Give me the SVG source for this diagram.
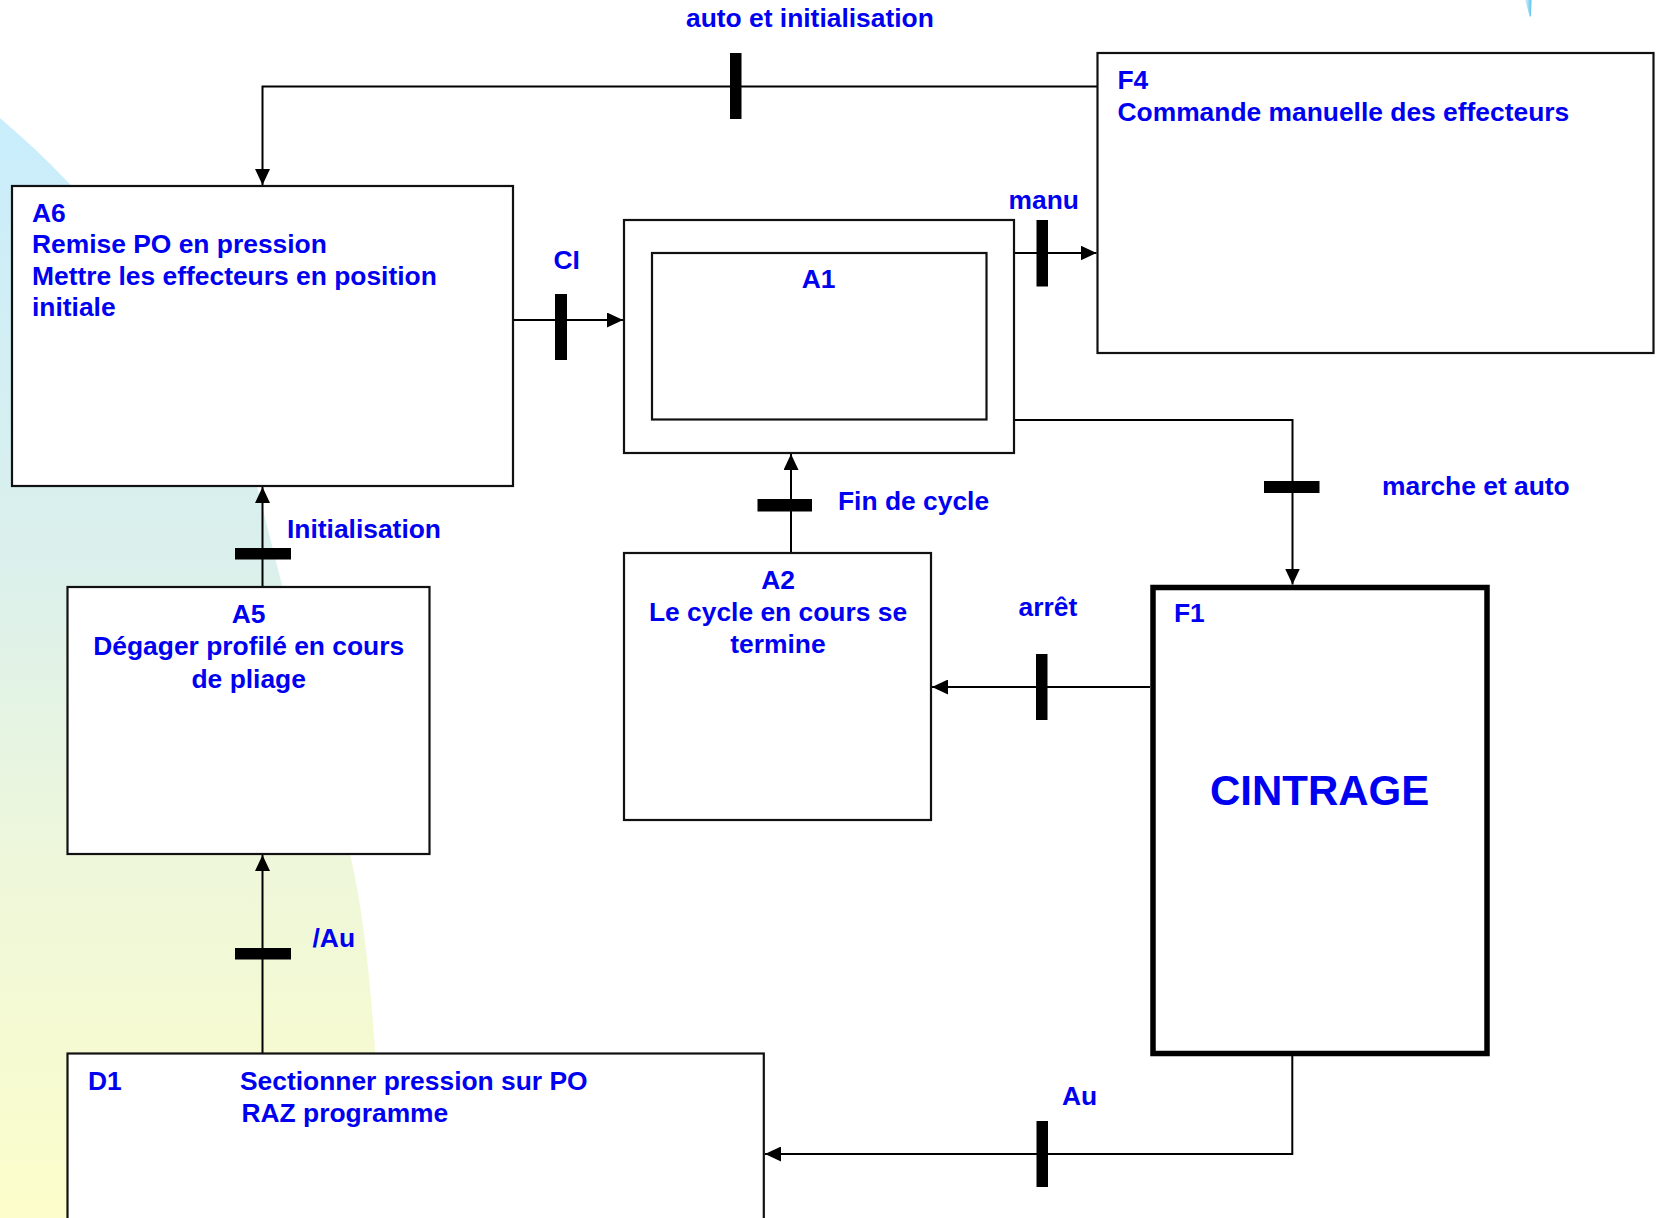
<svg xmlns="http://www.w3.org/2000/svg" width="1658" height="1218" viewBox="0 0 1658 1218">
<style>
.box{fill:#fff;stroke:#111;stroke-width:2.2}
.thick{fill:#fff;stroke:#000;stroke-width:5.5}
.line{fill:none;stroke:#000;stroke-width:2}
.bar{fill:#000}
text{font-family:"Liberation Sans",Arial,Helvetica,sans-serif;font-weight:bold;font-size:26.4px;fill:#0000f0}
.c{text-anchor:middle}
.big{font-size:42px}
</style>
<defs>
<linearGradient id="bg" gradientUnits="userSpaceOnUse" x1="0" y1="118" x2="0" y2="1218">
<stop offset="0" stop-color="#c9edfc"/>
<stop offset="0.4" stop-color="#dbf0ec"/>
<stop offset="0.68" stop-color="#eef7da"/>
<stop offset="1" stop-color="#fcfdca"/>
</linearGradient>
<linearGradient id="sl" x1="0" y1="0" x2="1" y2="0">
<stop offset="0" stop-color="#e3f5fc"/>
<stop offset="0.6" stop-color="#8fd6f2"/>
<stop offset="1" stop-color="#5cc4ec"/>
</linearGradient>
<marker id="ah" markerUnits="userSpaceOnUse" markerWidth="16" markerHeight="15" refX="16" refY="7.5" orient="auto">
<path d="M0,0 L16,7.5 L0,15 Z" fill="#000"/>
</marker>
</defs>

<g id="background">
<path d="M0,118 C120,220 220,360 257,486 L350,854 C368,930 378,1050 382,1218 L0,1218 Z" fill="url(#bg)"/>
<polygon points="1525,0 1531.5,0 1531,16.5 1529.8,16.5" fill="url(#sl)"/>
</g>

<g id="connectors">
<path class="line" d="M1097.5,86.5 H262.5 V185" marker-end="url(#ah)"/>
<rect class="bar" x="730" y="53" width="11.5" height="66"/>
<text x="686" y="27">auto et initialisation</text>

<path class="line" d="M513,320 H623" marker-end="url(#ah)"/>
<rect class="bar" x="555" y="294" width="12" height="66"/>
<text x="553.5" y="269">CI</text>

<path class="line" d="M1014,253 H1096.5" marker-end="url(#ah)"/>
<rect class="bar" x="1036.5" y="220" width="11.5" height="66.5"/>
<text x="1008.5" y="209">manu</text>

<path class="line" d="M1014,420 H1292.5 V584.5" marker-end="url(#ah)"/>
<rect class="bar" x="1264" y="481" width="55.5" height="12"/>
<text x="1382" y="495">marche et auto</text>

<path class="line" d="M791,553 V454" marker-end="url(#ah)"/>
<rect class="bar" x="757.5" y="499" width="54.5" height="12.5"/>
<text x="838" y="510">Fin de cycle</text>

<path class="line" d="M1150,687 H932" marker-end="url(#ah)"/>
<rect class="bar" x="1036" y="654" width="11.5" height="66"/>
<text x="1018.5" y="616">arrêt</text>

<path class="line" d="M262.5,587 V487" marker-end="url(#ah)"/>
<rect class="bar" x="235" y="548" width="56" height="11.5"/>
<text x="287" y="538">Initialisation</text>

<path class="line" d="M262.5,1053.5 V855" marker-end="url(#ah)"/>
<rect class="bar" x="235" y="948" width="56" height="11.5"/>
<text x="312.5" y="947">/Au</text>

<path class="line" d="M1292.3,1056 V1154 H765" marker-end="url(#ah)"/>
<rect class="bar" x="1036.5" y="1121" width="11.5" height="66"/>
<text x="1062" y="1105">Au</text>
</g>

<g id="F4">
<rect class="box" x="1097.5" y="53" width="556" height="300" stroke-width="2.6"/>
<text x="1117.5" y="89">F4</text>
<text x="1117.5" y="120.5">Commande manuelle des effecteurs</text>
</g>

<g id="A6">
<rect class="box" x="12" y="186" width="501" height="300"/>
<text x="32" y="221.5">A6</text>
<text x="32" y="253">Remise PO en pression</text>
<text x="32" y="285">Mettre les effecteurs en position</text>
<text x="32" y="316">initiale</text>
</g>

<g id="A1">
<rect class="box" x="624" y="220" width="390" height="233"/>
<rect class="box" x="652" y="253" width="334.5" height="166.5"/>
<text class="c" x="818.5" y="288">A1</text>
</g>

<g id="A2">
<rect class="box" x="624" y="553" width="307" height="267"/>
<text class="c" x="778" y="589">A2</text>
<text class="c" x="778" y="620.7">Le cycle en cours se</text>
<text class="c" x="778" y="652.7">termine</text>
</g>

<g id="A5">
<rect class="box" x="67.5" y="587" width="362" height="267"/>
<text class="c" x="248.7" y="622.7">A5</text>
<text class="c" x="248.7" y="655">Dégager profilé en cours</text>
<text class="c" x="248.7" y="688">de pliage</text>
</g>

<g id="F1">
<rect class="thick" x="1153" y="587.5" width="334" height="466"/>
<text x="1174" y="622">F1</text>
<text class="c big" x="1319.6" y="805">CINTRAGE</text>
</g>

<g id="D1">
<rect class="box" x="67.5" y="1053.5" width="696.3" height="200"/>
<text x="88" y="1090">D1</text>
<text x="240" y="1090">Sectionner pression sur PO</text>
<text x="241.5" y="1122">RAZ programme</text>
</g>
</svg>
